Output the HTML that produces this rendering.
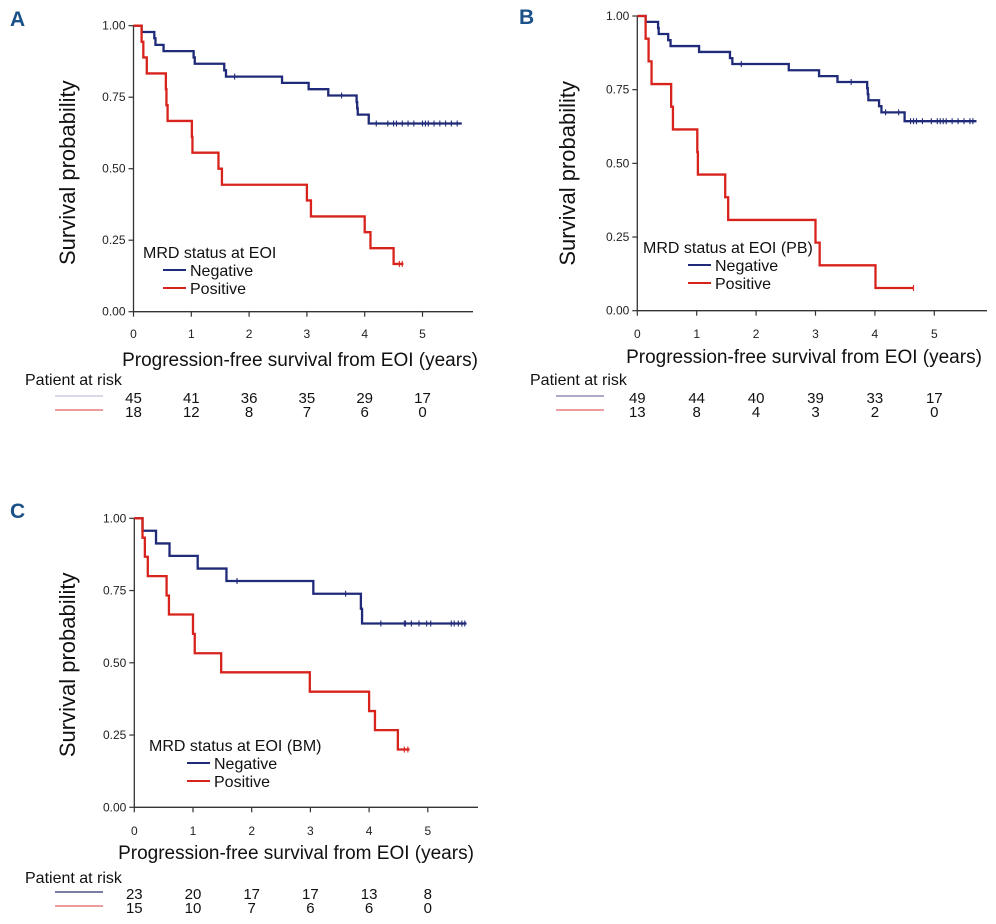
<!DOCTYPE html>
<html><head><meta charset="utf-8"><style>
html,body{margin:0;padding:0;background:#fff;}
svg{display:block;font-family:"Liberation Sans",sans-serif;}
</style></head><body>
<svg id="fig" width="996" height="924" viewBox="0 0 996 924" xmlns="http://www.w3.org/2000/svg"></svg>
<script>
// Panel A
const aNegTimes=[0.14,0.36,0.38,0.52,1.04,1.06,1.57,1.60,2.57,3.03,3.37,3.86,3.87,3.88,4.07];
const aNegSurv=[0.978,0.956,0.933,0.911,0.889,0.867,0.844,0.822,0.800,0.778,0.756,0.733,0.711,0.689,0.658];
const aNegEnd=5.68;
const aNegCens=[1.75,3.6,4.2,4.4,4.5,4.55,4.65,4.75,4.85,5.0,5.05,5.1,5.2,5.3,5.4,5.5,5.6];
const aPosTimes=[0.14,0.17,0.23,0.56,0.57,0.59,1.01,1.02,1.47,1.53,3.0,3.07,4.0,4.1,4.5];
const aPosSurv=[0.944,0.889,0.833,0.778,0.722,0.667,0.611,0.556,0.5,0.444,0.389,0.333,0.278,0.222,0.167];
const aPosEnd=4.67;
const aPosCens=[4.6,4.65];
const aRiskNeg=[45,41,36,35,29,17];
const aRiskPos=[18,12,8,7,6,0];
// Panel B
const bNegTimes=[0.14,0.35,0.36,0.52,0.56,1.04,1.56,1.60,2.55,3.06,3.37,3.87,3.88,3.89,4.07,4.11,4.5];
const bNegSurv=[0.98,0.959,0.939,0.918,0.898,0.878,0.857,0.837,0.816,0.796,0.776,0.755,0.735,0.714,0.694,0.673,0.643];
const bNegEnd=5.71;
const bNegCens=[1.75,3.6,4.18,4.4,4.6,4.65,4.7,4.8,4.95,5.05,5.1,5.15,5.2,5.3,5.4,5.5,5.6,5.65];
const bPosTimes=[0.14,0.19,0.24,0.57,0.6,1.01,1.02,1.48,1.53,3.0,3.07,4.01];
const bPosSurv=[0.923,0.846,0.769,0.692,0.615,0.538,0.462,0.385,0.308,0.231,0.154,0.077];
const bPosEnd=4.65;
const bPosCens=[4.65];
const bRiskNeg=[49,44,40,39,33,17];
const bRiskPos=[13,8,4,3,2,0];
// Panel C
const cNegTimes=[0.14,0.37,0.6,1.08,1.57,3.05,3.86,3.88];
const cNegSurv=[0.957,0.913,0.87,0.826,0.783,0.739,0.687,0.636];
const cNegEnd=5.66;
const cNegCens=[1.75,3.6,4.2,4.6,4.62,4.72,4.85,4.98,5.05,5.4,5.45,5.52,5.58,5.63];
const cPosTimes=[0.14,0.18,0.23,0.55,0.59,1.0,1.03,1.48,2.99,4.0,4.1,4.49];
const cPosSurv=[0.933,0.867,0.8,0.733,0.667,0.6,0.533,0.467,0.4,0.333,0.267,0.2];
const cPosEnd=4.69;
const cPosCens=[4.6,4.66];
const cRiskNeg=[23,20,17,17,13,8];
const cRiskPos=[15,10,7,6,6,0];
const yTicks=["0.00","0.25","0.50","0.75","1.00"];
const xTicks=["0","1","2","3","4","5"];

const NS="http://www.w3.org/2000/svg";
const svg=document.getElementById('fig');
const NAVY="#1f2a78", RED="#d8231d";
function mk(tag,attrs,parent,text){const e=document.createElementNS(NS,tag);for(const k in attrs)e.setAttribute(k,attrs[k]);if(text!==undefined)e.textContent=text;(parent||svg).appendChild(e);return e;}

function panel(p){
  const g=mk('g',{});
  
  
  const X=t=>p.x0+t*p.pxYr;
  const Y=s=>p.y0-(p.y0-p.y1)*s;
  const lab=mk('text',{x:p.lx,y:p.ly,'font-size':21,'font-weight':'bold',fill:'#1b5189'},g,p.id);
  
  
  const ya=mk('line',{x1:p.x0,y1:Y(1),x2:p.x0,y2:Y(0),stroke:'#333','stroke-width':1.3},g);
  
  
  const xa=mk('line',{x1:p.x0,y1:Y(0),x2:p.xEnd,y2:Y(0),stroke:'#333','stroke-width':1.3},g);
  
  
  yTicks.forEach(t=>{const v=parseFloat(t);
    mk('line',{x1:p.x0-5,y1:Y(v),x2:p.x0,y2:Y(v),stroke:'#333','stroke-width':1.2},g);
    const tt=mk('text',{x:p.x0-8,y:Y(v)+4,'font-size':12,'text-anchor':'end',fill:'#222'},g,t);
    
    
  });
  xTicks.forEach(t=>{const v=parseFloat(t);
    mk('line',{x1:X(v),y1:Y(0),x2:X(v),y2:Y(0)+5,stroke:'#333','stroke-width':1.2},g);
    const tt=mk('text',{x:X(v),y:p.xlY,'font-size':12,'text-anchor':'middle',fill:'#222'},g,t);
    
    
  });
  const yt=mk('text',{x:0,y:0,'font-size':22,'text-anchor':'middle',fill:'#111',transform:`translate(${p.ytx},${(Y(0)+Y(1))/2+p.ytOff}) rotate(-90)`},g,'Survival probability');
  
  
  const xt=mk('text',{x:p.xtx,y:p.xtY,'font-size':19,'text-anchor':'middle',fill:'#111'},g,'Progression-free survival from EOI (years)');
  
  
  function curve(times,surv,end,cens,color,name){
    let d=`M${X(0)},${Y(1)}`;
    times.forEach((t,i)=>{d+=` H${X(t)} V${Y(surv[i])}`;});
    d+=` H${X(end)}`;
    const path=mk('path',{d:d,fill:'none',stroke:color,'stroke-width':2.3},g);
    
    
    cens.forEach(c=>{
      let sv=1;times.forEach((t,i)=>{if(t<=c)sv=surv[i];});
      const m=mk('line',{x1:X(c),y1:Y(sv)-3,x2:X(c),y2:Y(sv)+3,stroke:color,'stroke-width':1.1},g);
      
      
    });
  }
  curve(p.negT,p.negS,p.negE,p.negC,NAVY,'negative');
  curve(p.posT,p.posS,p.posE,p.posC,RED,'positive');
  const lg=mk('g',{},g);
  
  
  mk('text',{x:p.legX,y:p.legY,'font-size':16,fill:'#111'},lg,p.legTitle);
  const ln1=mk('line',{x1:p.legLX,y1:p.legY+12,x2:p.legLX+23,y2:p.legY+12,stroke:NAVY,'stroke-width':2},lg);
  
  
  mk('text',{x:p.legLX+27,y:p.legY+18,'font-size':16,fill:'#111'},lg,'Negative');
  const ln2=mk('line',{x1:p.legLX,y1:p.legY+30,x2:p.legLX+23,y2:p.legY+30,stroke:RED,'stroke-width':2},lg);
  
  
  mk('text',{x:p.legLX+27,y:p.legY+36,'font-size':16,fill:'#111'},lg,'Positive');
  const rt=mk('g',{},g);
  
  
  mk('text',{x:p.rtX,y:p.rtY,'font-size':16,fill:'#111'},rt,'Patient at risk');
  mk('line',{x1:p.rlX,y1:p.rtY+p.o1-7,x2:p.rlX+48,y2:p.rtY+p.o1-7,stroke:p.rNegCol,'stroke-width':1.2},rt);
  mk('line',{x1:p.rlX,y1:p.rtY+p.o2-7,x2:p.rlX+48,y2:p.rtY+p.o2-7,stroke:'#e06060','stroke-width':1.2},rt);
  p.rNeg.forEach((v,i)=>{const t=mk('text',{x:X(i),y:p.rtY+p.o1,'font-size':15,'text-anchor':'middle',fill:'#111'},rt,v);
    
    });
  p.rPos.forEach((v,i)=>{const t=mk('text',{x:X(i),y:p.rtY+p.o2,'font-size':15,'text-anchor':'middle',fill:'#111'},rt,v);
    
    });
}

panel({id:'A',lx:10,ly:26,x0:133.5,pxYr:57.8,y1:25.7,y0:311.7,xEnd:473,xlY:338,ytx:75,ytOff:4,xtx:300,xtY:366,
  negT:aNegTimes,negS:aNegSurv,negE:aNegEnd,negC:aNegCens,posT:aPosTimes,posS:aPosSurv,posE:aPosEnd,posC:aPosCens,
  legTitle:'MRD status at EOI',legX:143,legY:258,legLX:163,rtX:25,rtY:385,o1:18,o2:32,rlX:55,rNegCol:'#c0c0d8',rNeg:aRiskNeg,rPos:aRiskPos});
panel({id:'B',lx:519,ly:24,x0:637.3,pxYr:59.4,y1:16,y0:310.7,xEnd:987,xlY:338,ytx:575,ytOff:10,xtY:363,xtx:804,
  negT:bNegTimes,negS:bNegSurv,negE:bNegEnd,negC:bNegCens,posT:bPosTimes,posS:bPosSurv,posE:bPosEnd,posC:bPosCens,
  legTitle:'MRD status at EOI (PB)',legX:643,legY:253,legLX:688,rtX:530,rtY:385,o1:18,o2:32,rlX:556,rNegCol:'#7a7aa8',rNeg:bRiskNeg,rPos:bRiskPos});
panel({id:'C',lx:10,ly:518,x0:134.3,pxYr:58.7,y1:518.3,y0:807.3,xEnd:478,xlY:835,ytx:75,ytOff:2,xtY:859,xtx:296,
  negT:cNegTimes,negS:cNegSurv,negE:cNegEnd,negC:cNegCens,posT:cPosTimes,posS:cPosSurv,posE:cPosEnd,posC:cPosCens,
  legTitle:'MRD status at EOI (BM)',legX:149,legY:751,legLX:187,rtX:25,rtY:883,o1:16,o2:30,rlX:55,rNegCol:'#2a2f6a',rNeg:cRiskNeg,rPos:cRiskPos});
</script>
</body></html>
